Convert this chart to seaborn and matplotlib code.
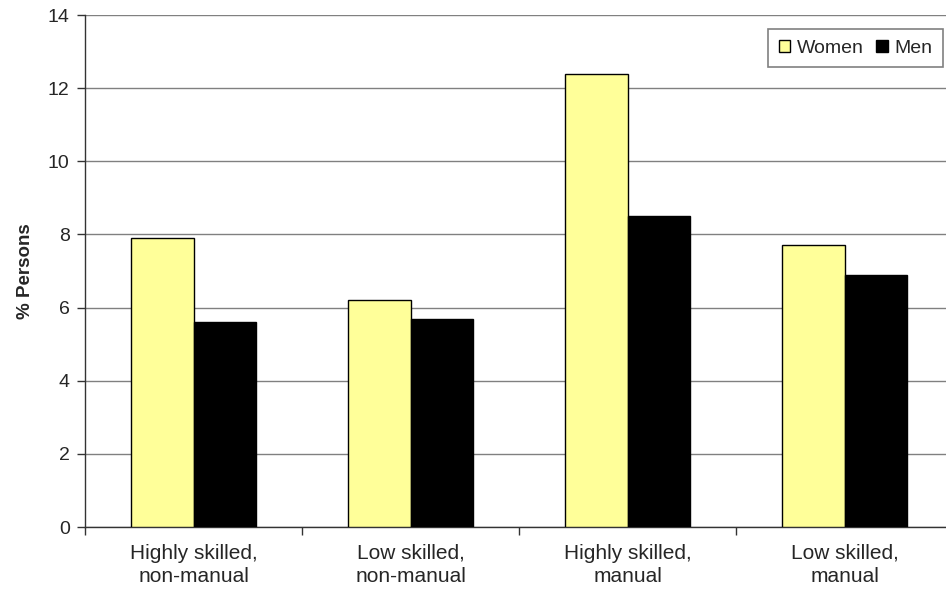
import matplotlib
matplotlib.use("Agg")
import matplotlib.pyplot as plt
from matplotlib.ticker import FixedLocator, NullFormatter
import seaborn as sns
import pandas as pd

categories = ["Highly skilled,\nnon-manual", "Low skilled,\nnon-manual",
              "Highly skilled,\nmanual", "Low skilled,\nmanual"]
women = [7.9, 6.2, 12.4, 7.7]
men = [5.6, 5.7, 8.5, 6.9]
series = ["Women", "Men"]
y_ticks = [0, 2, 4, 6, 8, 10, 12, 14]

df = pd.DataFrame({
    "category": categories * 2,
    "sex": ["Women"] * len(categories) + ["Men"] * len(categories),
    "value": women + men,
})

sns.set_style("white")
plt.rcParams["font.family"] = ["Liberation Sans", "DejaVu Sans"]
plt.rcParams["font.size"] = 14

fig = plt.figure(figsize=(9.46, 5.94), dpi=100)
W, H = 946, 594
left, right, top, bottom = 85, 953, 15, 527
ax = fig.add_axes([left / W, 1 - bottom / H, (right - left) / W, (bottom - top) / H])

sns.barplot(data=df, x="category", y="value", hue="sex", hue_order=series,
            palette={"Women": "#FFFF99", "Men": "#000000"},
            width=0.58, edgecolor="black", linewidth=1.0, saturation=1,
            ax=ax, zorder=3)

ax.set_ylim(0, 14)
ax.set_yticks(y_ticks)
ax.set_xlim(-0.5, 3.5)
ax.yaxis.grid(True, color="#808080", linewidth=1.0, zorder=0)
ax.set_axisbelow(True)

# category boundaries carry the tick marks, centers carry the labels
ax.xaxis.set_major_locator(FixedLocator([-0.5, 0.5, 1.5, 2.5, 3.5]))
ax.xaxis.set_major_formatter(NullFormatter())
ax.xaxis.set_minor_locator(FixedLocator([0, 1, 2, 3]))
ax.set_xticklabels(categories, minor=True, linespacing=1.3)
ax.tick_params(axis="x", which="major", direction="out", length=6, width=1,
               color="#333333", bottom=True)
ax.tick_params(axis="x", which="minor", length=0, pad=12, labelsize=15)
ax.tick_params(axis="y", direction="out", length=6, width=1, color="#333333",
               left=True, labelsize=14, pad=5)

for s in ["top", "right"]:
    ax.spines[s].set_visible(False)
for s in ["left", "bottom"]:
    ax.spines[s].set_color("#333333")
    ax.spines[s].set_linewidth(1.0)

ax.set_xlabel("")
ax.set_ylabel("% Persons", fontsize=13.5, fontweight="bold", labelpad=10)

handles, labels = ax.get_legend_handles_labels()
ax.legend(handles, labels, loc="upper right",
          bbox_to_anchor=(943 / W, 1 - 29 / H), bbox_transform=fig.transFigure,
          ncol=2, frameon=True, fancybox=False, edgecolor="#808080",
          framealpha=1, handlelength=0.6, handleheight=0.6, handletextpad=0.35,
          columnspacing=0.6, borderpad=0.55, borderaxespad=0, fontsize=14)
ax.get_legend().get_frame().set_linewidth(1.2)

fig.savefig("out.png", dpi=100)
